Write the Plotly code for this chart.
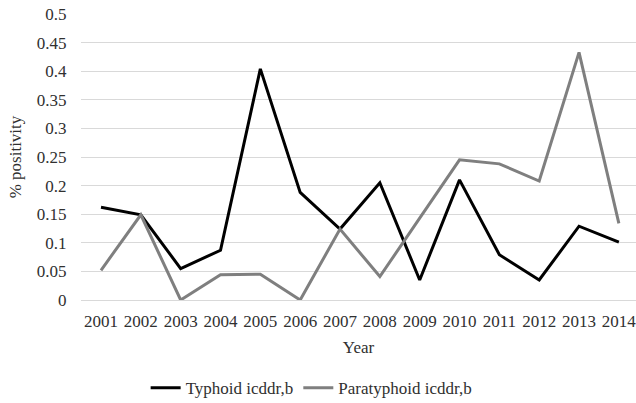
import plotly.graph_objects as go

years = ["2001", "2002", "2003", "2004", "2005", "2006", "2007",
         "2008", "2009", "2010", "2011", "2012", "2013", "2014"]
typhoid = [0.162, 0.149, 0.055, 0.087, 0.404, 0.188, 0.124,
           0.205, 0.035, 0.210, 0.079, 0.035, 0.129, 0.101]
paratyphoid = [0.052, 0.149, 0.0, 0.044, 0.045, 0.0, 0.124,
               0.041, 0.143, 0.245, 0.238, 0.208, 0.433, 0.134]

font_family = "Liberation Serif, Times New Roman, serif"

fig = go.Figure()
fig.add_trace(go.Scatter(x=years, y=typhoid, mode="lines", name="Typhoid icddr,b",
                         line=dict(color="#000000", width=3)))
fig.add_trace(go.Scatter(x=years, y=paratyphoid, mode="lines", name="Paratyphoid icddr,b",
                         line=dict(color="#7f7f7f", width=3)))

fig.update_layout(
    width=636, height=403,
    margin=dict(l=81, r=0, t=14, b=103, autoexpand=False),
    paper_bgcolor="white", plot_bgcolor="white",
    font=dict(family=font_family, size=17, color="#303030"),
    showlegend=True,
    legend=dict(orientation="h", x=0.49, xref="container", xanchor="center",
                y=0.037, yref="container", yanchor="middle",
                font=dict(size=17), itemwidth=30, tracegroupgap=0),
    xaxis=dict(type="category", range=[-0.502, 13.43], showgrid=False, showline=False,
               automargin=False,
               ticks="outside", tickcolor="white", ticklen=6,
               title=dict(text="Year", standoff=10, font=dict(size=17))),
    yaxis=dict(range=[0, 0.5], dtick=0.05, showgrid=True, gridcolor="#d9d9d9", gridwidth=1,
               zeroline=True, zerolinecolor="#d9d9d9", zerolinewidth=1,
               automargin=False,
               showline=False, ticks="outside", tickcolor="white", ticklen=10,
               title=dict(text="% positivity", standoff=10, font=dict(size=17))),
)

fig.write_html("out.html", config={"displayModeBar": False},
               post_script="document.body.style.margin='0';")
